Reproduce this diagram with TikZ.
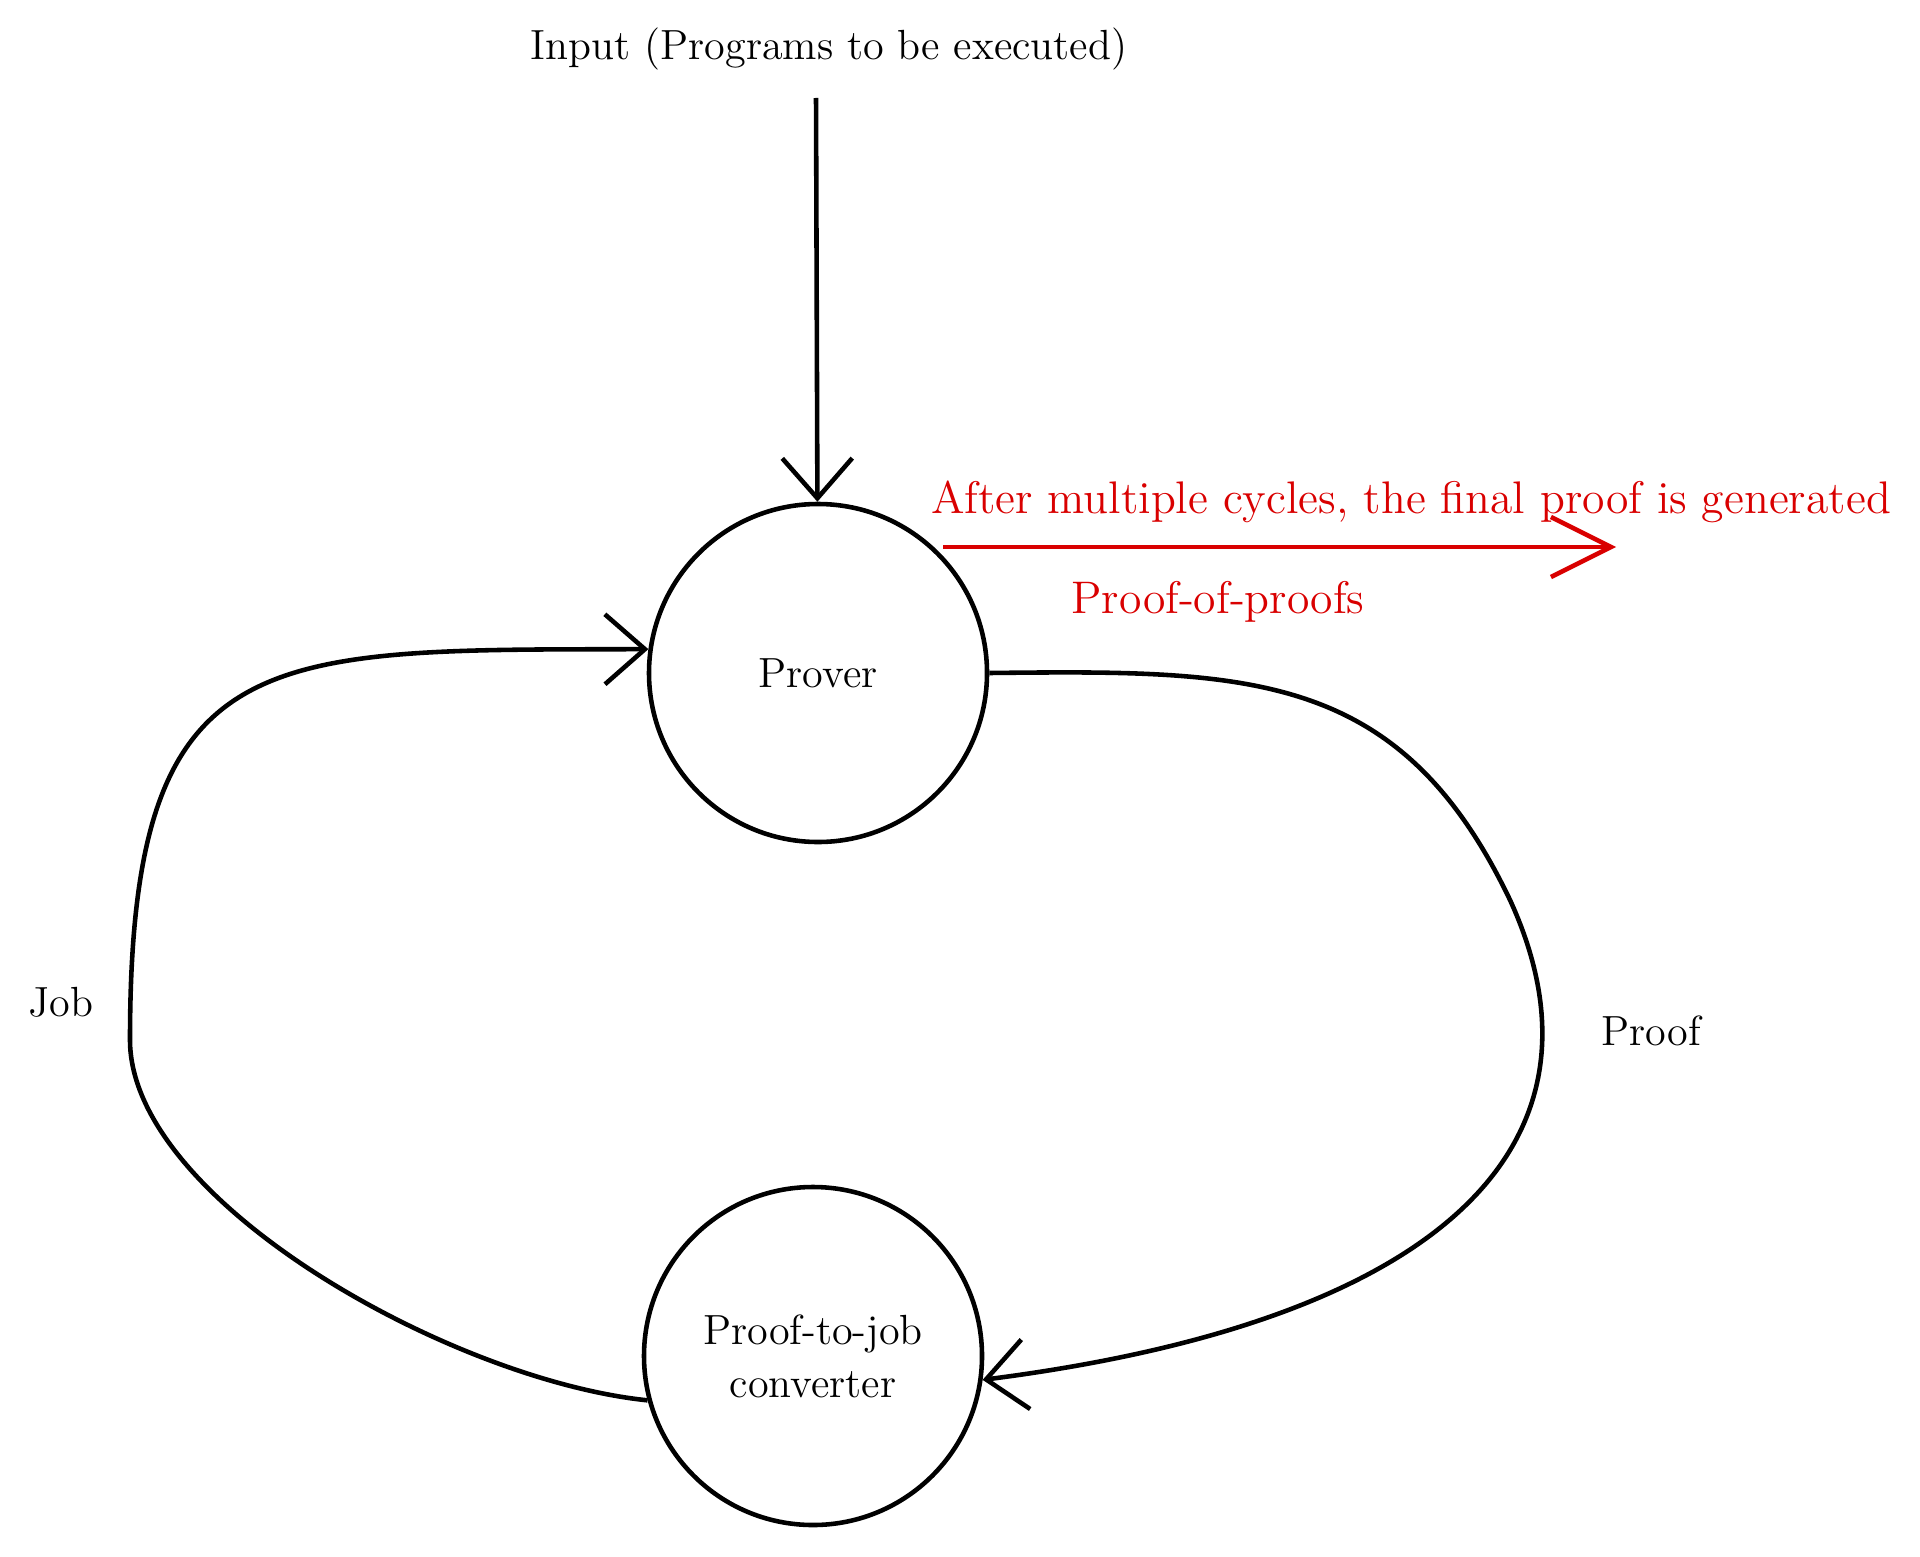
\documentclass[tikz,border=0pt]{standalone}
\usetikzlibrary{arrows.meta}
\begin{document}
\begin{tikzpicture}[
            estado/.style={shape=circle, draw=black, line width=1.3pt, minimum size=3.38cm, font=\fontsize{12}{15}\selectfont},
            rotulo/.style={font=\fontsize{12}{15}\selectfont},
            seta/.style={line width=1.3pt, -{Straight Barb[length=4mm, width=7mm]}},
            final/.style={line width=1.3pt, red!85!black, -{Straight Barb[length=6mm, width=6mm]}},
        ]
        \useasboundingbox (0, 0) rectangle (19.2, -15.56);
        \node[estado, align=center] (prover) at (8.18, -6.73) {Prover};
        \node[estado, align=center] (conv) at (8.13, -13.56) {Proof-to-job\\converter};
        \node[rotulo] (input) at (8.29, -0.49) {Input (Programs to be executed)};
        \coordinate (topo) at (8.16, -0.98);
        \coordinate (inicio) at (9.43, -5.47);
        \coordinate (saida) at (16.16, -5.47);
        \node[rotulo] (job) at (0.61, -10.02) {Job};
        \node[rotulo] (proof) at (16.51, -10.31) {Proof};
        \node[rotulo, font=\fontsize{13}{15}\selectfont, text=red!85!black] (msg) at (14.11, -5.02) {After multiple cycles, the final proof is generated};
        \node[rotulo, font=\fontsize{13}{15}\selectfont, text=red!85!black] (pop) at (12.18, -6.02) {Proof-of-proofs};

        \draw[seta] (topo) -- (prover);
        \draw[final] (inicio) -- (saida);
        \draw[seta] (prover.east) .. controls (12.5, -6.7) and (14.0, -6.7) .. (15.1, -9.0)
            .. controls (16.2, -11.4) and (14.5, -13.2) .. (conv.-8);
        \draw[seta] (conv.-165) .. controls (4.5, -13.8) and (1.3, -12.0) .. (1.3, -10.4)
            .. controls (1.3, -6.4) and (2.6, -6.5) .. (prover.172);
    \end{tikzpicture}
\end{document}
